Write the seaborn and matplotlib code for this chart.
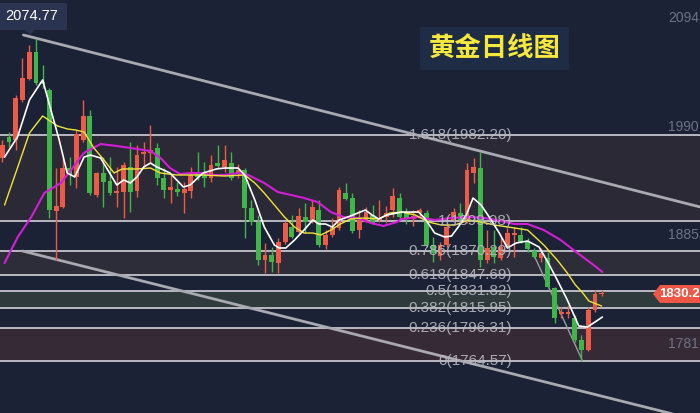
import matplotlib
matplotlib.use('Agg')

import numpy as np
import pandas as pd
import matplotlib.pyplot as plt
import matplotlib.patches as mpatches
import seaborn as sns

# daily candles, index 0..89 (open, high, low, close)
opens = [1960.1, 1980.3, 1977.4, 2015.9, 2036.1, 2062.1, 2033.2, 2025.5, 1909.0, 1912.9,
         1950.4, 1941.8, 1977.4, 2000.5, 1924.4, 1945.6, 1937.9, 1926.3, 1927.3, 1951.4,
         1928.3, 1963.9, 1964.9, 1969.7, 1940.8, 1929.2, 1930.2, 1926.3, 1928.3, 1945.6,
         1945.6, 1940.8, 1955.2, 1951.4, 1955.2, 1945.6, 1948.5, 1911.9, 1898.4, 1861.8,
         1866.6, 1858.9, 1879.2, 1893.6, 1888.8, 1903.2, 1900.3, 1910.0, 1876.3, 1885.9,
         1892.6, 1926.3, 1921.5, 1890.7, 1900.3, 1905.2, 1900.3, 1903.2, 1910.0, 1921.5,
         1907.1, 1901.3, 1907.1, 1907.1, 1876.3, 1865.7, 1876.3, 1900.3, 1907.1, 1900.3,
         1945.6, 1950.4, 1861.8, 1874.3, 1863.8, 1874.3, 1885.9, 1885.9, 1879.2, 1870.5,
         1863.8, 1863.8, 1834.9, 1809.8, 1809.8, 1806.0, 1784.8, 1775.2, 1813.7, 1829.1]
highs = [1977.4, 1985.1, 2020.7, 2056.3, 2068.9, 2074.77, 2049.6, 2027.5, 1950.4, 1960.1,
         1961.0, 1987.0, 2015.9, 2006.3, 1946.6, 1961.0, 1961.0, 1951.4, 1956.2, 1975.5,
         1972.6, 1975.5, 1991.8, 1974.5, 1950.4, 1943.7, 1936.9, 1936.9, 1951.4, 1965.8,
         1956.2, 1962.9, 1972.6, 1972.6, 1965.8, 1954.3, 1950.4, 1919.6, 1905.2, 1878.2,
         1874.3, 1883.0, 1899.4, 1905.2, 1911.9, 1916.7, 1919.6, 1919.6, 1890.7, 1902.3,
         1932.1, 1936.0, 1926.3, 1910.0, 1912.9, 1914.8, 1919.6, 1913.8, 1931.2, 1926.3,
         1911.9, 1910.0, 1911.9, 1910.0, 1884.0, 1879.2, 1897.5, 1911.9, 1916.7, 1955.2,
         1960.1, 1965.8, 1890.7, 1890.7, 1884.0, 1892.6, 1893.6, 1893.6, 1883.0, 1873.4,
         1873.4, 1869.5, 1835.8, 1816.6, 1818.5, 1808.9, 1789.6, 1816.6, 1832.9, 1832.9]
lows = [1956.2, 1970.6, 1967.8, 2014.0, 2035.2, 2030.4, 2027.5, 1902.3, 1861.8, 1911.9,
        1934.1, 1931.2, 1975.5, 1924.4, 1922.5, 1912.9, 1924.4, 1912.9, 1902.3, 1908.0,
        1922.5, 1951.4, 1956.2, 1934.1, 1921.5, 1916.7, 1923.5, 1907.1, 1921.5, 1938.9,
        1932.1, 1936.9, 1950.4, 1946.6, 1938.9, 1940.8, 1883.0, 1895.5, 1857.0, 1849.3,
        1850.3, 1849.3, 1877.2, 1883.0, 1886.9, 1887.8, 1897.5, 1874.3, 1872.4, 1884.0,
        1890.7, 1919.6, 1887.8, 1883.0, 1898.4, 1896.5, 1898.4, 1897.5, 1903.2, 1901.3,
        1896.5, 1894.6, 1903.2, 1874.3, 1859.9, 1861.8, 1874.3, 1898.4, 1898.4, 1897.5,
        1936.0, 1855.1, 1858.9, 1858.9, 1861.8, 1873.4, 1864.7, 1878.2, 1869.5, 1863.8,
        1859.9, 1834.9, 1801.2, 1806.0, 1806.0, 1782.9, 1764.57, 1774.2, 1811.7, 1827.2]
closes = [1972.6, 1975.5, 2017.8, 2037.1, 2062.1, 2032.3, 2031.3, 1910.0, 1913.8, 1950.4,
          1943.7, 1983.2, 2000.5, 1926.3, 1945.6, 1936.9, 1926.3, 1928.3, 1953.3, 1927.3,
          1962.9, 1965.8, 1967.8, 1940.8, 1929.2, 1932.1, 1927.3, 1930.2, 1943.7, 1941.8,
          1940.8, 1953.3, 1952.3, 1958.1, 1940.8, 1948.5, 1911.9, 1898.4, 1861.8, 1866.6,
          1859.9, 1879.2, 1897.5, 1884.0, 1904.2, 1898.4, 1912.9, 1876.3, 1885.9, 1893.6,
          1929.2, 1920.6, 1889.8, 1900.3, 1908.0, 1897.5, 1902.3, 1907.1, 1923.5, 1903.2,
          1901.3, 1904.2, 1910.0, 1876.3, 1868.6, 1876.3, 1893.6, 1908.0, 1900.3, 1948.5,
          1951.4, 1861.8, 1873.4, 1864.7, 1874.3, 1887.8, 1887.8, 1879.2, 1872.4, 1864.7,
          1868.6, 1835.8, 1806.0, 1811.7, 1811.7, 1784.8, 1775.2, 1813.7, 1829.1, 1830.2]

# moving average lines (candle index, price)
ma_white_x = [0.34, 2.26, 4.03, 5.99, 8.45, 9.63, 10.77, 12.14, 13.1, 14.6, 17.0, 18.04, 19.0,
              20.0, 21.0, 22.0, 22.95, 23.94, 24.9, 25.9, 26.9, 27.9, 29.8, 31.8, 33.0, 35.0,
              36.0, 37.5, 38.9, 40.4, 41.1, 42.1, 43.4, 44.8, 46.1, 47.0, 48.0, 49.0, 50.0,
              51.7, 53.9, 54.9, 55.9, 57.1, 58.6, 59.3, 61.8, 62.7, 64.2, 65.7, 66.7, 67.7,
              68.9, 69.9, 71.1, 72.3, 73.8, 75.0, 76.3, 78.0, 79.7, 81.0, 82.4, 83.9, 85.6,
              86.9, 89.1]
ma_white_y = [1961.0, 1980.3, 2015.9, 2035.2, 1977.4, 1945.6, 1941.8, 1961.0, 1962.9, 1960.0,
              1934.1, 1938.9, 1936.0, 1941.8, 1951.4, 1955.2, 1951.4, 1948.5, 1945.6, 1938.9,
              1932.1, 1934.1, 1945.6, 1949.5, 1950.4, 1950.4, 1943.7, 1919.6, 1893.6, 1876.3,
              1873.4, 1873.4, 1881.1, 1890.7, 1900.3, 1896.5, 1896.5, 1893.6, 1900.3, 1904.2,
              1910.0, 1905.2, 1901.3, 1905.2, 1907.1, 1908.0, 1908.0, 1902.3, 1887.8, 1884.0,
              1884.9, 1893.6, 1905.2, 1921.5, 1914.8, 1903.2, 1887.8, 1873.4, 1878.2, 1880.1,
              1874.3, 1859.9, 1842.6, 1823.3, 1798.3, 1797.3, 1806.9]
ma_yellow_x = [0.34, 2.3, 4.03, 5.99, 8.2, 9.68, 10.9, 12.14, 13.6, 15.1, 16.6, 17.8, 20.0,
               22.0, 23.5, 25.9, 29.8, 33.0, 36.0, 37.5, 38.9, 40.4, 41.9, 43.4, 44.8, 46.1,
               47.3, 48.8, 50.2, 51.7, 53.7, 55.9, 57.6, 59.3, 61.3, 63.3, 65.2, 67.2, 69.2,
               71.1, 73.1, 75.1, 78.0, 80.4, 82.4, 83.9, 85.1, 86.2, 87.1, 89.0]
ma_yellow_y = [1914.8, 1951.4, 1984.1, 2000.5, 1990.9, 1988.0, 1987.0, 1985.1, 1969.7, 1958.1,
               1945.6, 1949.5, 1949.5, 1950.4, 1945.6, 1943.7, 1943.7, 1942.7, 1943.7, 1936.0,
               1926.3, 1914.8, 1903.2, 1893.6, 1887.8, 1887.8, 1885.9, 1890.7, 1896.5, 1901.3,
               1902.3, 1901.3, 1907.1, 1908.0, 1905.2, 1898.4, 1895.5, 1895.5, 1900.3, 1898.4,
               1895.5, 1893.6, 1890.7, 1876.3, 1861.8, 1849.3, 1837.8, 1830.0, 1822.3, 1817.5]
ma_purple_x = [0.34, 2.3, 4.3, 6.24, 8.7, 10.2, 12.1, 14.6, 17.05, 19.0, 22.0, 23.5, 24.9,
               26.4, 27.9, 29.8, 31.1, 33.0, 35.0, 36.5, 38.9, 40.9, 42.9, 44.8, 46.8, 48.8,
               50.7, 52.7, 54.7, 56.6, 58.6, 59.3, 61.8, 64.2, 66.7, 69.2, 71.6, 74.1, 76.0,
               78.0, 80.4, 82.9, 85.4, 87.8, 89.1]
ma_purple_y = [1858.9, 1884.0, 1903.2, 1926.3, 1936.0, 1948.5, 1964.9, 1973.5, 1971.6, 1969.7,
               1966.8, 1960.0, 1950.4, 1944.6, 1945.6, 1945.6, 1943.7, 1943.7, 1945.6, 1943.7,
               1936.0, 1927.3, 1924.4, 1921.5, 1917.7, 1908.0, 1903.2, 1902.3, 1897.5, 1894.6,
               1898.4, 1901.3, 1903.2, 1900.3, 1902.3, 1903.2, 1902.3, 1899.4, 1896.5, 1896.5,
               1890.7, 1881.1, 1868.6, 1857.0, 1850.3]

# fibonacci levels
fib_ratios = ['1.618', '1', '0.786', '0.618', '0.5', '0.382', '0.236', '0']
fib_prices = [1982.20, 1899.08, 1870.29, 1847.69, 1831.82, 1815.95, 1796.31, 1764.57]

# drawn trend lines (index, price)
upper_line = ([3.14, 103.6], [2078.5, 1912.9])
lower_line = ([3.0, 103.6], [1870.5, 1707.0])
thin_line = ([78.8, 86.1], [1868.6, 1765.5])

right_ticks = [2094.40, 1990.00, 1885.60, 1781.20]
last_price = 1830.20
peak_label = '2074.77'
title = '黄金日线图'

BG = '#1b2235'
RED = '#ec5a48'
GREEN = '#3fb54a'

sns.set_style('dark')
plt.rcParams['font.family'] = ['Liberation Sans', 'DejaVu Sans']

fig = plt.figure(figsize=(7, 4.13), dpi=100)
fig.patch.set_facecolor(BG)
ax = fig.add_axes([0, 0, 1, 1])
ax.set_facecolor(BG)
ax.set_xlim(-0.34, 103.6)
ax.set_ylim(1714.5, 2112.2)
ax.set_axis_off()

# shaded fib zones
bands = [(0, 1, '#2b2935'), (2, 3, '#2d2d39'), (4, 5, '#2e3a3c'), (6, 7, '#362a37')]
for a, b, col in bands:
    ax.axhspan(fib_prices[b], fib_prices[a], color=col, zorder=0)
for p in fib_prices:
    ax.axhline(p, color='#c4c4cc', lw=1.3, zorder=1)

# trend lines
ax.plot(*upper_line, color='#a9a9b2', lw=2, zorder=2, solid_capstyle='round')
ax.plot(*lower_line, color='#a9a9b2', lw=2, zorder=2, solid_capstyle='round')
ax.plot(*thin_line, color='#9a9aa2', lw=1, zorder=2)

# candles
idx = np.arange(len(opens))
for i in idx:
    o, h, l, c = opens[i], highs[i], lows[i], closes[i]
    col = RED if c >= o else GREEN
    ax.vlines(i, l, h, color=col, lw=1, zorder=3)
    ax.bar(i, max(abs(c - o), 0.9), bottom=min(o, c), width=0.72, color=col,
           linewidth=0, zorder=4)

# moving averages
for xs, ys, col, lw in [(ma_purple_x, ma_purple_y, '#d21fd6', 1.5),
                        (ma_yellow_x, ma_yellow_y, '#f2e33a', 1.0),
                        (ma_white_x, ma_white_y, '#ffffff', 1.2)]:
    df = pd.DataFrame({'i': xs, 'p': ys})
    sns.lineplot(data=df, x='i', y='p', ax=ax, color=col, lw=lw, sort=False,
                 estimator=None, zorder=5)
ax.set_axis_off()

# fib labels
for r, p in zip(fib_ratios, fib_prices):
    ax.text(75.7, p, '%s(%.2f)' % (r, p), color='#b8b8c0', fontsize=11,
            ha='right', va='center', zorder=6, alpha=0.9)

# right axis labels (the chart crops the decimals at the edge)
for t in right_ticks:
    ax.text(98.9, t, '%d' % int(t), color='#6c7384', fontsize=10, ha='left', va='center')

# current price tag
W, H = 700.0, 413.0
def fxy(x, y):
    return (x / W, 1 - y / H)

tag = mpatches.Polygon([fxy(653, 294), fxy(660, 285), fxy(700, 285), fxy(700, 303), fxy(660, 303)],
                       closed=True, transform=fig.transFigure, facecolor='#ee5646',
                       edgecolor='none', zorder=1)
fig.patches.append(tag)
fig.text(*fxy(659, 294), '%.1f' % last_price, color='white', fontsize=9.5,
         fontweight='bold', ha='left', va='center', zorder=5)

# peak label
box = mpatches.Polygon([fxy(0, 3), fxy(67, 3), fxy(67, 30), fxy(35, 30), fxy(30, 35),
                        fxy(25, 30), fxy(0, 30)], closed=True, transform=fig.transFigure,
                       facecolor='#2a3450', edgecolor='none', zorder=1)
fig.patches.append(box)
fig.text(*fxy(5, 16.5), peak_label, color='white', fontsize=10.5, ha='left', va='center',
         zorder=5)

# title
title_box = mpatches.FancyBboxPatch(fxy(420, 70), 149 / W, 43 / H,
                                    boxstyle='round,pad=0,rounding_size=0.004',
                                    transform=fig.transFigure, facecolor='#1f2c46',
                                    edgecolor='none', zorder=1)
fig.patches.append(title_box)
fig.text(*fxy(494.5, 48.5), title, color='#f6e83c', fontsize=19, fontweight='bold',
         ha='center', va='center', family=['Noto Sans CJK SC', 'DejaVu Sans'], zorder=5)

fig.savefig('out.png', dpi=100, facecolor=BG)
